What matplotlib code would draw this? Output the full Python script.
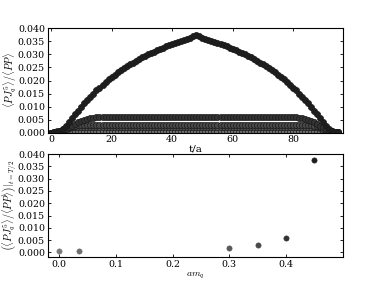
import matplotlib
matplotlib.use("Agg")
import matplotlib.pyplot as plt

# ---- data ----
t = list(range(96))

r045 = [0.0000, 0.0001, 0.0003, 0.0007, 0.0015, 0.0026, 0.0040, 0.0055, 0.0070, 0.0084,
        0.0098, 0.0112, 0.0125, 0.0138, 0.0150, 0.0162, 0.0173, 0.0184, 0.0194, 0.0204,
        0.0213, 0.0222, 0.0231, 0.0239, 0.0247, 0.0255, 0.0262, 0.0269, 0.0276, 0.0283,
        0.0289, 0.0295, 0.0301, 0.0306, 0.0311, 0.0316, 0.0321, 0.0326, 0.0331, 0.0335,
        0.0340, 0.0344, 0.0348, 0.0352, 0.0356, 0.0360, 0.0364, 0.0370, 0.0376,
        0.0370, 0.0364, 0.0360, 0.0356, 0.0352, 0.0348, 0.0344, 0.0340, 0.0335, 0.0331,
        0.0326, 0.0321, 0.0316, 0.0311, 0.0306, 0.0301, 0.0295, 0.0289, 0.0283, 0.0276,
        0.0269, 0.0262, 0.0255, 0.0247, 0.0239, 0.0231, 0.0222, 0.0213, 0.0204, 0.0194,
        0.0184, 0.0173, 0.0162, 0.0150, 0.0138, 0.0125, 0.0112, 0.0098, 0.0084, 0.0070,
        0.0055, 0.0040, 0.0026, 0.0015, 0.0007, 0.0003, 0.0001]

r040 = [0.0000, 0.0000, 0.0001, 0.0003, 0.0007, 0.0013, 0.0020, 0.0027, 0.0034, 0.0040,
        0.0045, 0.0050, 0.0053, 0.0056, 0.0058, 0.0060, 0.0061, 0.0061, 0.0061, 0.0061,
        0.0061, 0.0061, 0.0061, 0.0061, 0.0061, 0.0061, 0.0061, 0.0061, 0.0061, 0.0061,
        0.0061, 0.0061, 0.0061, 0.0061, 0.0061, 0.0061, 0.0061, 0.0061, 0.0061, 0.0060,
        0.0060, 0.0060, 0.0060, 0.0060, 0.0060, 0.0060, 0.0060, 0.0060, 0.0060,
        0.0060, 0.0060, 0.0060, 0.0060, 0.0060, 0.0060, 0.0060, 0.0060, 0.0060,
        0.0061, 0.0061, 0.0061, 0.0061, 0.0061, 0.0061, 0.0061, 0.0061, 0.0061, 0.0061,
        0.0061, 0.0061, 0.0061, 0.0061, 0.0061, 0.0061, 0.0061, 0.0061, 0.0061, 0.0061,
        0.0061, 0.0061, 0.0061, 0.0060, 0.0058, 0.0056, 0.0053, 0.0050, 0.0045, 0.0040,
        0.0034, 0.0027, 0.0020, 0.0013, 0.0007, 0.0003, 0.0001, 0.0000]

r035 = [0.0000, 0.0000, 0.0001, 0.0004, 0.0009, 0.0015, 0.0020, 0.0024, 0.0026, 0.0028,
        0.0029, 0.0029, 0.0029, 0.0029, 0.0029, 0.0029, 0.0029, 0.0029, 0.0029, 0.0029,
        0.0029, 0.0029, 0.0029, 0.0029, 0.0029, 0.0029, 0.0029, 0.0029, 0.0029, 0.0029,
        0.0029, 0.0029, 0.0029, 0.0029, 0.0029, 0.0029, 0.0029, 0.0029, 0.0029, 0.0029,
        0.0029, 0.0029, 0.0029, 0.0029, 0.0029, 0.0029, 0.0029, 0.0029, 0.0029,
        0.0029, 0.0029, 0.0029, 0.0029, 0.0029, 0.0029, 0.0029, 0.0029, 0.0029, 0.0029,
        0.0029, 0.0029, 0.0029, 0.0029, 0.0029, 0.0029, 0.0029, 0.0029, 0.0029, 0.0029,
        0.0029, 0.0029, 0.0029, 0.0029, 0.0029, 0.0029, 0.0029, 0.0029, 0.0029, 0.0029,
        0.0029, 0.0029, 0.0029, 0.0029, 0.0029, 0.0029, 0.0029, 0.0028, 0.0026, 0.0024,
        0.0020, 0.0015, 0.0009, 0.0004, 0.0001, 0.0000, 0.0000]

r030 = [0.0000, 0.0001, 0.0003, 0.0008, 0.0013, 0.0017, 0.0019, 0.0020, 0.0020, 0.0020,
        0.0020, 0.0020, 0.0020, 0.0020, 0.0020, 0.0020, 0.0020, 0.0020, 0.0020, 0.0020,
        0.0020, 0.0020, 0.0020, 0.0020, 0.0020, 0.0020, 0.0020, 0.0020, 0.0020, 0.0020,
        0.0020, 0.0020, 0.0020, 0.0020, 0.0020, 0.0020, 0.0020, 0.0020, 0.0020, 0.0020,
        0.0020, 0.0020, 0.0020, 0.0020, 0.0020, 0.0020, 0.0020, 0.0020, 0.0020,
        0.0020, 0.0020, 0.0020, 0.0020, 0.0020, 0.0020, 0.0020, 0.0020, 0.0020, 0.0020,
        0.0020, 0.0020, 0.0020, 0.0020, 0.0020, 0.0020, 0.0020, 0.0020, 0.0020, 0.0020,
        0.0020, 0.0020, 0.0020, 0.0020, 0.0020, 0.0020, 0.0020, 0.0020, 0.0020, 0.0020,
        0.0020, 0.0020, 0.0020, 0.0020, 0.0020, 0.0020, 0.0020, 0.0020, 0.0020, 0.0020,
        0.0019, 0.0017, 0.0013, 0.0008, 0.0003, 0.0001, 0.0000]

r0035 = [0.0000, 0.0002, 0.0004, 0.0005, 0.0005, 0.0005, 0.0005, 0.0005, 0.0005, 0.0005,
         0.0005, 0.0005, 0.0005, 0.0005, 0.0005, 0.0005, 0.0005, 0.0005, 0.0005, 0.0005,
         0.0005, 0.0005, 0.0005, 0.0005, 0.0005, 0.0005, 0.0005, 0.0005, 0.0005, 0.0005,
         0.0005, 0.0005, 0.0005, 0.0005, 0.0005, 0.0005, 0.0005, 0.0005, 0.0005, 0.0005,
         0.0005, 0.0005, 0.0005, 0.0005, 0.0005, 0.0005, 0.0005, 0.0005, 0.0005,
         0.0005, 0.0005, 0.0005, 0.0005, 0.0005, 0.0005, 0.0005, 0.0005, 0.0005, 0.0005,
         0.0005, 0.0005, 0.0005, 0.0005, 0.0005, 0.0005, 0.0005, 0.0005, 0.0005, 0.0005,
         0.0005, 0.0005, 0.0005, 0.0005, 0.0005, 0.0005, 0.0005, 0.0005, 0.0005, 0.0005,
         0.0005, 0.0005, 0.0005, 0.0005, 0.0005, 0.0005, 0.0005, 0.0005, 0.0005, 0.0005,
         0.0005, 0.0005, 0.0005, 0.0005, 0.0004, 0.0002, 0.0001]

r000 = [0.0000, 0.0002, 0.0005, 0.0007, 0.0007, 0.0007, 0.0007, 0.0007, 0.0007, 0.0007,
        0.0007, 0.0007, 0.0007, 0.0007, 0.0007, 0.0007, 0.0007, 0.0007, 0.0007, 0.0007,
        0.0007, 0.0007, 0.0007, 0.0007, 0.0007, 0.0007, 0.0007, 0.0007, 0.0007, 0.0007,
        0.0007, 0.0007, 0.0007, 0.0007, 0.0007, 0.0007, 0.0007, 0.0007, 0.0007, 0.0007,
        0.0007, 0.0007, 0.0007, 0.0007, 0.0007, 0.0007, 0.0007, 0.0007, 0.0007,
        0.0007, 0.0007, 0.0007, 0.0007, 0.0007, 0.0007, 0.0007, 0.0007, 0.0007, 0.0007,
        0.0007, 0.0007, 0.0007, 0.0007, 0.0007, 0.0007, 0.0007, 0.0007, 0.0007, 0.0007,
        0.0007, 0.0007, 0.0007, 0.0007, 0.0007, 0.0007, 0.0007, 0.0007, 0.0007, 0.0007,
        0.0007, 0.0007, 0.0007, 0.0007, 0.0007, 0.0007, 0.0007, 0.0007, 0.0007, 0.0007,
        0.0007, 0.0007, 0.0007, 0.0007, 0.0005, 0.0002, 0.0001]

amq = [0.0, 0.035, 0.3, 0.35, 0.4, 0.45]
mid_values = [0.0007, 0.0005, 0.0020, 0.0029, 0.0060, 0.0376]
series = [r000, r0035, r030, r035, r040, r045]
colors = ["#7a7a7a", "#6e6e6e", "#585858", "#484848", "#333333", "#1e1e1e"]

yticks = [0.000, 0.005, 0.010, 0.015, 0.020, 0.025, 0.030, 0.035, 0.040]
ytick_labels = ["0.000", "0.005", "0.010", "0.015", "0.020", "0.025", "0.030", "0.035", "0.040"]

# ---- style ----
plt.rcParams["font.family"] = "DejaVu Serif"
plt.rcParams["mathtext.fontset"] = "cm"

fig = plt.figure(figsize=(3.82, 2.86), dpi=100)
ax1 = fig.add_axes([0.125, 0.536, 0.773, 0.365])
ax2 = fig.add_axes([0.125, 0.100, 0.773, 0.3615])

for ys, c in zip(series, colors):
    ax1.plot(t, ys, linestyle="none", marker="o", markersize=4.4,
             markerfacecolor=c, markeredgecolor="#1a1a1a", markeredgewidth=0.5)

ax1.set_xlim(-1.1, 96.5)
ax1.set_ylim(0.0, 0.040)
ax1.set_xticks([0, 20, 40, 60, 80])
ax1.set_yticks(yticks)
ax1.set_yticklabels(ytick_labels)
ax1.set_xlabel("t/a", fontsize=7.5, labelpad=0)
ax1.set_ylabel(r"$\langle PJ_q^5\rangle/\langle PP\rangle$", fontsize=7.3)
ax1.yaxis.set_label_coords(-0.098, 0.5)

for x, y, c in zip(amq, mid_values, colors):
    ax2.plot(x, y, linestyle="none", marker="o", markersize=3.8,
             markerfacecolor=c, markeredgecolor=c, markeredgewidth=0.4)

ax2.set_xlim(-0.0205, 0.501)
ax2.set_ylim(-0.0020, 0.040)
ax2.set_xticks([0.0, 0.1, 0.2, 0.3, 0.4])
ax2.set_yticks(yticks)
ax2.set_yticklabels(ytick_labels)
ax2.set_xlabel(r"$am_q$", fontsize=7, labelpad=1)
ax2.set_ylabel(r"$\left(\langle PJ_q^5\rangle/\langle PP\rangle\right)|_{t=T/2}$", fontsize=7.3)
ax2.yaxis.set_label_coords(-0.098, 0.5)

for ax in (ax1, ax2):
    ax.tick_params(direction="in", top=True, right=True, labelsize=6.8,
                   length=2.5, width=0.6, pad=2)
    for s in ax.spines.values():
        s.set_linewidth(0.8)

fig.savefig("out.png", dpi=100)
